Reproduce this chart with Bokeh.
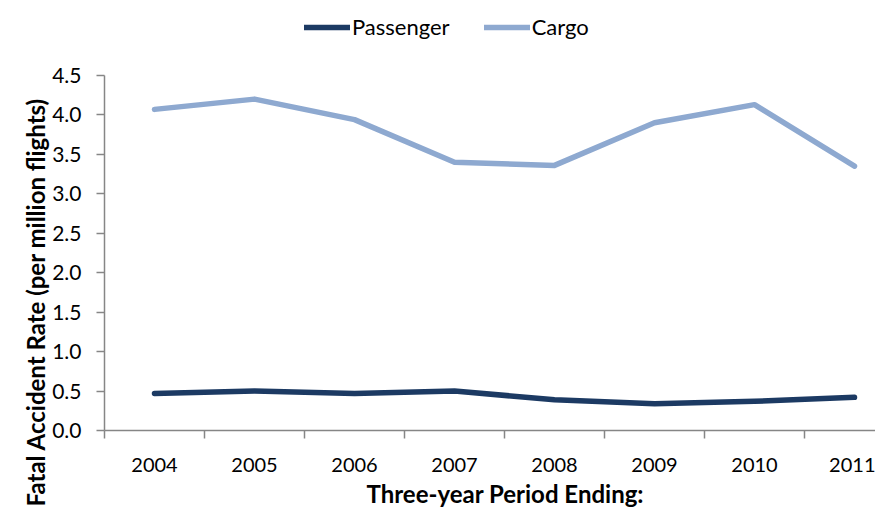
from bokeh.plotting import figure
from bokeh.models import Legend, LegendItem, FixedTicker, Range1d, Title
from bokeh.embed import file_html
from bokeh.resources import INLINE

years = ["2004", "2005", "2006", "2007", "2008", "2009", "2010", "2011"]
passenger = [0.47, 0.50, 0.47, 0.50, 0.39, 0.34, 0.37, 0.42]
cargo = [4.07, 4.20, 3.94, 3.40, 3.36, 3.90, 4.13, 3.35]
y_ticks = [0.0, 0.5, 1.0, 1.5, 2.0, 2.5, 3.0, 3.5, 4.0, 4.5]
x_title = "Three-year Period Ending:"
y_title = "Fatal Accident Rate (per million flights)"

xs = list(range(len(years)))
FONT = "Lato"
AXIS_COLOR = "#868686"

# frame reaches the top so the legend can sit above the 4.5 tick;
# the y axis itself is bounded to 0..4.5
p = figure(width=875, height=509, output_backend="svg", toolbar_location=None,
           x_range=Range1d(-0.5, 7.21), y_range=Range1d(0, 5.45),
           min_border_left=104, min_border_top=0, min_border_bottom=78, min_border_right=0)
p.outline_line_color = None
p.grid.grid_line_color = None

pl = p.line(xs, passenger, line_color="#1C3A63", line_width=5.5, line_cap="round", line_join="round")
cl = p.line(xs, cargo, line_color="#8EA9D0", line_width=5.5, line_cap="round", line_join="round")

# x axis: labels at category centres, tick marks at category boundaries
xa = p.xaxis[0]
xa.ticker = FixedTicker(ticks=xs, minor_ticks=[i - 0.5 for i in range(len(years) + 1)])
xa.major_label_overrides = {i: y for i, y in enumerate(years)}
xa.major_tick_out = 0
xa.major_tick_in = 0
xa.minor_tick_out = 8
xa.minor_tick_in = 0
xa.minor_tick_line_color = AXIS_COLOR
xa.axis_line_color = AXIS_COLOR
xa.axis_line_width = 1.5
xa.minor_tick_line_width = 1.5
xa.major_label_text_font = FONT
xa.major_label_text_font_size = "20px"
xa.major_label_text_color = "#000000"
xa.major_label_standoff = 19

ya = p.yaxis[0]
ya.bounds = (0, 4.5)
ya.ticker = FixedTicker(ticks=y_ticks)
ya.major_label_overrides = {t: f"{t:.1f}" for t in y_ticks}
ya.major_tick_out = 8
ya.major_tick_in = 0
ya.minor_tick_out = 0
ya.minor_tick_in = 0
ya.major_tick_line_color = AXIS_COLOR
ya.major_tick_line_width = 1.5
ya.axis_line_color = AXIS_COLOR
ya.axis_line_width = 1.5
ya.major_label_text_font = FONT
ya.major_label_text_font_size = "21px"
ya.major_label_text_color = "#000000"
ya.major_label_standoff = 15

xt = Title(text=x_title, align="left", offset=262, text_font=FONT, text_font_size="24px",
           text_font_style="bold", text_color="#000000", standoff=4)
p.add_layout(xt, "below")

yt = Title(text=y_title, align="left", offset=-76, text_font=FONT, text_font_size="24px",
           text_font_style="bold", text_color="#000000", standoff=0)
p.add_layout(yt, "left")

legend = Legend(items=[LegendItem(label="Passenger", renderers=[pl]),
                       LegendItem(label="Cargo", renderers=[cl])],
                orientation="horizontal", location=(200, 390),
                label_text_font=FONT, label_text_font_size="22px",
                label_text_color="#000000",
                glyph_width=46, glyph_height=20, label_standoff=2, spacing=34,
                border_line_color=None, background_fill_alpha=0,
                margin=0, padding=3)
p.add_layout(legend)

open("out.html", "w").write(file_html(p, INLINE))
